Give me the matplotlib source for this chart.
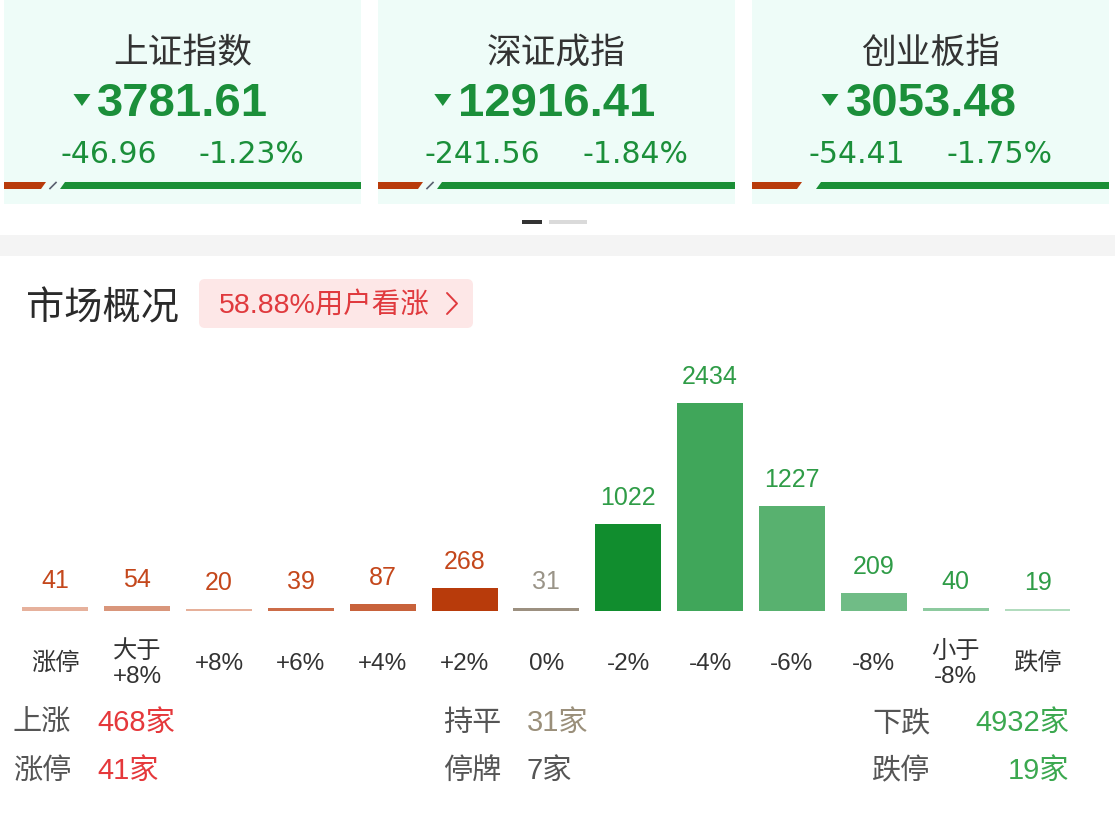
import matplotlib
matplotlib.use('Agg')
import matplotlib.pyplot as plt
from matplotlib.patches import Rectangle, Polygon, FancyBboxPatch

plt.rcParams['font.family'] = ['Liberation Sans', 'Noto Sans CJK SC', 'DejaVu Sans']

# index cards
index_names = ['上证指数', '深证成指', '创业板指']
index_values = [3781.61, 12916.41, 3053.48]
index_changes = [-46.96, -241.56, -54.41]
index_pcts = [-1.23, -1.84, -1.75]

# distribution of moves
categories = ['涨停', '大于\n+8%', '+8%', '+6%', '+4%', '+2%', '0%',
              '-2%', '-4%', '-6%', '-8%', '小于\n-8%', '跌停']
counts = [41, 54, 20, 39, 87, 268, 31, 1022, 2434, 1227, 209, 40, 19]
bar_colors = ['#E6B19C', '#D9967B', '#E6B09A', '#CC6C48', '#C8623B', '#B83B0B', '#9C9080',
              '#118D2E', '#40A65A', '#58B16F', '#70BC86', '#8DCA9F', '#B2DCBE']
value_colors = ['#C4471B'] * 6 + ['#9A9488'] + ['#2F9C47'] * 6

# summary
bullish_pct = 58.88
up_total, limit_up = 468, 41
flat_total, suspended = 31, 7
down_total, limit_down = 4932, 19

W, H = 1115, 830
GREEN = '#1B8F3A'
DARK = '#333333'

fig = plt.figure(figsize=(W / 100, H / 100), dpi=100)
bg = fig.add_axes([0, 0, 1, 1])
bg.set_xlim(0, W)
bg.set_ylim(H, 0)
bg.axis('off')
r = fig.canvas.get_renderer()

#top cards
card_x0 = [4, 378, 752]
card_w = 357
red_len = [42, 45, 50]
for k in range(3):
    x0 = card_x0[k]
    c = x0 + card_w / 2
    bg.add_patch(Rectangle((x0, 0), card_w, 204, color='#EEFCF8', lw=0))
    bg.text(c, 63, index_names[k], ha='center', va='baseline', fontsize=25,
            color=DARK, family=['Noto Sans CJK SC'])
    t = bg.text(c + 0.5, 116, '%.2f' % index_values[k], ha='center', va='baseline',
                fontsize=34, fontweight='bold', color=GREEN, family=['Liberation Sans'])
    ext = t.get_window_extent(r)
    tl = ext.x0 - 7
    bg.add_patch(Polygon([(tl - 17, 94), (tl, 94), (tl - 8.5, 106)], closed=True,
                         color=GREEN, lw=0))
    t1 = bg.text(0, 163, '%.2f' % index_changes[k], ha='left', va='baseline',
                 fontsize=21.5, color=GREEN, family=['DejaVu Sans'])
    t2 = bg.text(0, 163, '%.2f%%' % index_pcts[k], ha='left', va='baseline',
                 fontsize=21.5, color=GREEN, family=['DejaVu Sans'])
    w1 = t1.get_window_extent(r).width
    w2 = t2.get_window_extent(r).width
    gap = 42
    start = c - (w1 + gap + w2) / 2
    t1.set_x(start)
    t2.set_x(start + w1 + gap)
    # red/green ratio strip
    rl = red_len[k]
    bg.add_patch(Polygon([(x0, 182), (x0 + rl, 182), (x0 + rl - 5, 189), (x0, 189)],
                         closed=True, color='#B83B0B', lw=0))
    if k < 2:
        bg.plot([x0 + rl + 10, x0 + rl + 4], [182.5, 188.5], color='#5A6070', lw=1.2)
    gs = x0 + rl + 14
    bg.add_patch(Polygon([(gs + 5, 182), (x0 + card_w, 182), (x0 + card_w, 189), (gs, 189)],
                         closed=True, color='#1A8F36', lw=0))

# pager
bg.add_patch(Rectangle((522, 220), 20, 4, color='#333333', lw=0))
bg.add_patch(Rectangle((549, 220), 38, 4, color='#DADADA', lw=0))

# separator band
bg.add_patch(Rectangle((0, 235), W, 21, color='#F4F4F4', lw=0))

# section title + badge
bg.text(26, 319, '市场概况', ha='left', va='baseline', fontsize=27.5, color='#2A2A2A',
        family=['Noto Sans CJK SC'])
bg.add_patch(FancyBboxPatch((199, 279), 274, 49, boxstyle='round,pad=0,rounding_size=6',
                            color='#FDE7E7', lw=0))
bg.text(219, 313, '%.2f%%用户看涨' % bullish_pct, ha='left', va='baseline', fontsize=20.5,
        color='#E03A3E')
bg.plot([447, 457, 447], [293, 303.5, 314], color='#E03A3E', lw=1.4, solid_capstyle='round')

# bar chart
step = 81.85
left_px = 55.3 - step / 2
ymax = 2800
px_per = 208 / 2434
ax_h = ymax * px_per
ax = fig.add_axes([left_px / W, (H - 611) / H, 13 * step / W, ax_h / H])
ax.set_xlim(-0.5, 12.5)
ax.set_ylim(0, ymax)
ax.axis('off')
xs = list(range(len(counts)))
ax.bar(xs, counts, width=0.806, color=bar_colors, linewidth=0)
for i in xs:
    ax.annotate(str(counts[i]), (i, counts[i]), xytext=(0, 19), textcoords='offset pixels',
                ha='center', va='baseline', fontsize=18, color=value_colors[i])
    two = '\n' in categories[i]
    ax.annotate(categories[i], (i, 0), xytext=(0, -72 if two else -59),
                textcoords='offset pixels', ha='center', va='baseline', fontsize=17.5,
                color=DARK, linespacing=1.2, annotation_clip=False)

# summary rows
lab_col = '#555555'
fs = 21
rows = [731, 779]
bg.text(13, rows[0], '上涨', ha='left', va='baseline', fontsize=fs, color=lab_col)
bg.text(97, rows[0], '%d家' % up_total, ha='left', va='baseline', fontsize=fs, color='#E5383B')
bg.text(13, rows[1], '涨停', ha='left', va='baseline', fontsize=fs, color=lab_col)
bg.text(97, rows[1], '%d家' % limit_up, ha='left', va='baseline', fontsize=fs, color='#E5383B')
bg.text(443, rows[0], '持平', ha='left', va='baseline', fontsize=fs, color=lab_col)
bg.text(527, rows[0], '%d家' % flat_total, ha='left', va='baseline', fontsize=fs, color='#9A8F7A')
bg.text(443, rows[1], '停牌', ha='left', va='baseline', fontsize=fs, color=lab_col)
bg.text(527, rows[1], '%d家' % suspended, ha='left', va='baseline', fontsize=fs, color=lab_col)
bg.text(872, rows[0], '下跌', ha='left', va='baseline', fontsize=fs, color=lab_col)
bg.text(1069, rows[0], '%d家' % down_total, ha='right', va='baseline', fontsize=fs, color='#3BA84F')
bg.text(872, rows[1], '跌停', ha='left', va='baseline', fontsize=fs, color=lab_col)
bg.text(1069, rows[1], '%d家' % limit_down, ha='right', va='baseline', fontsize=fs, color='#3BA84F')

fig.savefig('out.png', dpi=100)
